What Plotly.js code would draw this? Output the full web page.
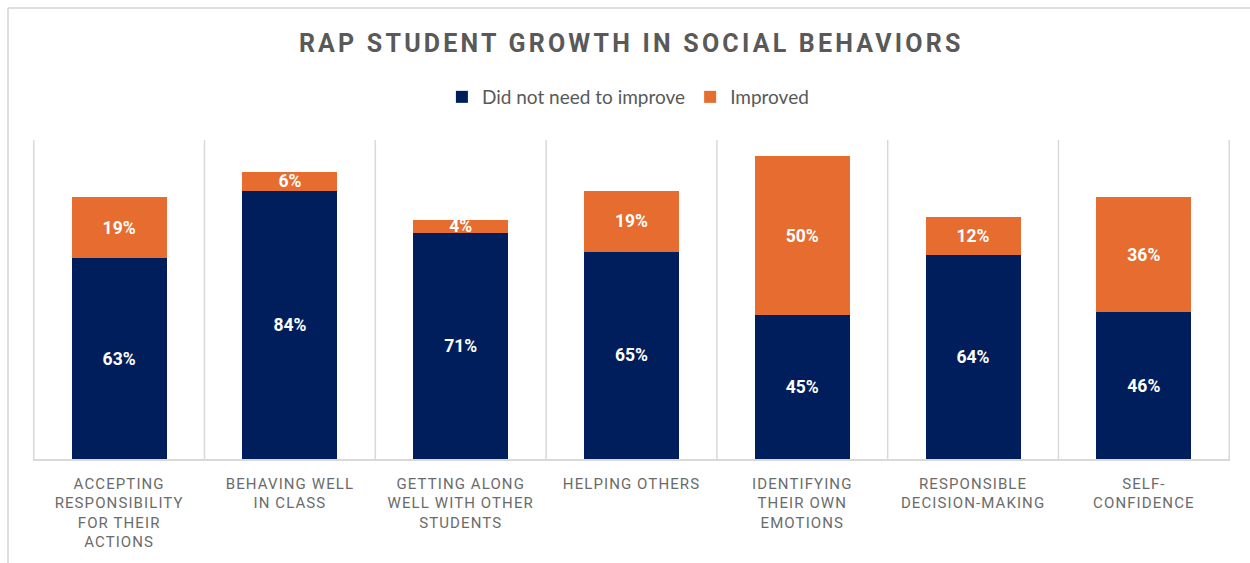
<!DOCTYPE html>
<html>
<head>
<meta charset="utf-8">
<script src="https://cdn.plot.ly/plotly-3.0.1.min.js"></script>
<style>
  html, body { margin: 0; padding: 0; background: #fff; }
  #chart { width: 1250px; height: 563px; }
  .gtitle { letter-spacing: 3.2px; }
  .xtick text { letter-spacing: 1.1px; }
</style>
</head>
<body>
<div id="chart"></div>
<script>
const categories = [
  "ACCEPTING<br>RESPONSIBILITY<br>FOR THEIR<br>ACTIONS",
  "BEHAVING WELL<br>IN CLASS",
  "GETTING ALONG<br>WELL WITH OTHER<br>STUDENTS",
  "HELPING OTHERS",
  "IDENTIFYING<br>THEIR OWN<br>EMOTIONS",
  "RESPONSIBLE<br>DECISION-MAKING",
  "SELF-<br>CONFIDENCE"
];
const didNotNeed = [63, 84, 71, 65, 45, 64, 46];
const improved = [19, 6, 4, 19, 50, 12, 36];
const seriesNames = ["Did not need to improve", "Improved"];
const colors = ["#001E5C", "#E66C2F"];

const labelFont = { family: "Roboto, 'Liberation Sans', sans-serif", size: 17.5, color: "#ffffff", weight: 700 };

const traces = [didNotNeed, improved].map((vals, i) => ({
  type: "bar",
  name: seriesNames[i],
  x: categories,
  y: vals,
  marker: { color: colors[i], line: { width: 0 } },
  texttemplate: "%{y}%",
  textposition: "inside",
  insidetextanchor: "middle",
  textangle: 0,
  constraintext: "none",
  textfont: labelFont,
  hoverinfo: "skip"
}));

const shapes = [];
for (let i = 0; i <= categories.length; i++) {
  shapes.push({
    type: "line", xref: "x", yref: "y",
    x0: i - 0.5, x1: i - 0.5, y0: 0, y1: 100,
    line: { color: "#d9d9d9", width: 1.5 },
    layer: "below"
  });
}
// outer chart border (top and left visible)
shapes.push({ type: "line", xref: "paper", yref: "paper",
  x0: (8 - 33) / 1197, x1: (1250 - 33) / 1197, y0: (459 - 8) / 319, y1: (459 - 8) / 319,
  line: { color: "#d4d4d4", width: 1.5 } });
shapes.push({ type: "line", xref: "paper", yref: "paper",
  x0: (8 - 33) / 1197, x1: (8 - 33) / 1197, y0: (459 - 8) / 319, y1: (459 - 563) / 319,
  line: { color: "#d4d4d4", width: 1.5 } });

const layout = {
  width: 1250, height: 563,
  margin: { l: 33, r: 20, t: 140, b: 104 },
  paper_bgcolor: "#ffffff",
  plot_bgcolor: "#ffffff",
  barmode: "stack",
  bargap: 0.444,
  showlegend: true,
  title: {
    text: "<b>RAP STUDENT GROWTH IN SOCIAL BEHAVIORS</b>",
    font: { family: "Roboto, 'Liberation Sans', sans-serif", size: 25, color: "#595959" },
    x: 0.505, xanchor: "center",
    y: 1 - 43 / 563, yref: "container", yanchor: "middle"
  },
  legend: {
    orientation: "h",
    x: 0.497, xanchor: "center",
    y: (459 - 97) / 319, yanchor: "middle",
    font: { family: "Lato, 'Open Sans', sans-serif", size: 19, color: "#595959" },
    traceorder: "normal",
    itemwidth: 30
  },
  xaxis: {
    type: "category",
    showgrid: false,
    showline: true,
    linecolor: "#d9d9d9",
    linewidth: 1.5,
    ticks: "",
    ticklabelstandoff: 10,
    tickfont: { family: "Roboto, 'Liberation Sans', sans-serif", size: 15, color: "#6b6b6b" },
    fixedrange: true
  },
  yaxis: {
    range: [0, 100],
    visible: false,
    showgrid: false,
    zeroline: false,
    fixedrange: true
  },
  shapes: shapes
};

Plotly.newPlot("chart", traces, layout, { displayModeBar: false, staticPlot: true });
</script>
</body>
</html>
